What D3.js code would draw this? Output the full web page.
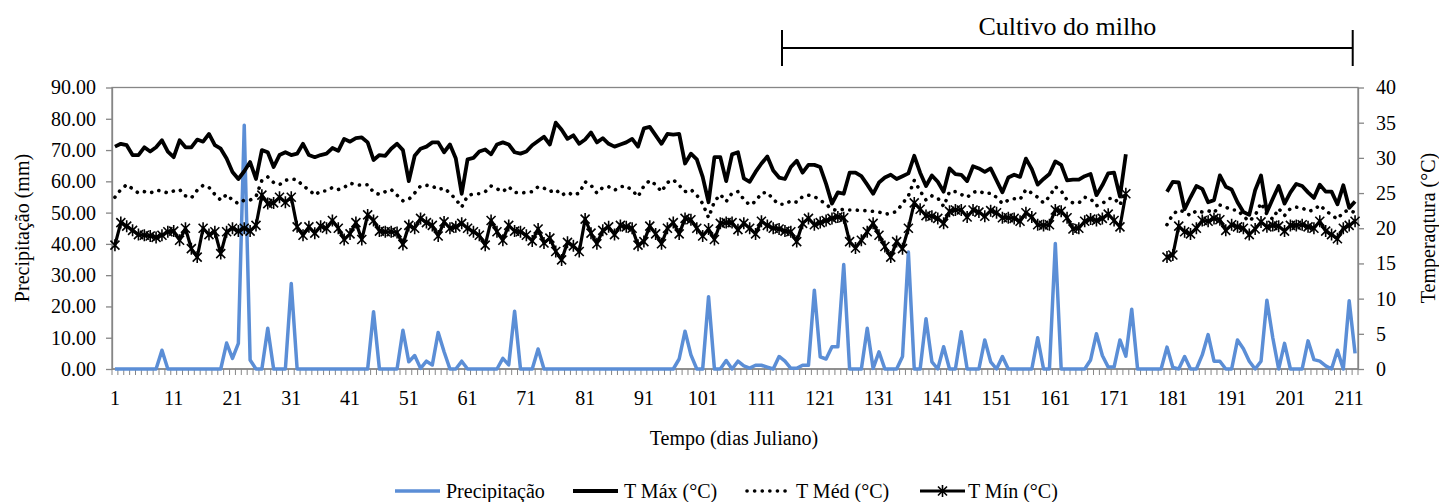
<!DOCTYPE html>
<html>
<head>
<meta charset="utf-8">
<script src="https://cdn.jsdelivr.net/npm/d3@7"></script>
<style>
  body { margin: 0; background: #fff; }
  svg text { font-family: "Liberation Serif", "Times New Roman", serif; fill: #000; }
</style>
</head>
<body>
<div class="canvas"></div>
<script>
// daily series (Julian days 1..212), gaps in temperature = null
var precipitacao = [
  0,0,0,0,0,0,0,0,6.0,0,
  0,0,0,0,0,0,0,0,0,8.3,
  3.4,8.2,77.9,2.9,0,0,13.0,0,0,0,
  27.3,0,0,0,0,0,0,0,0,0,
  0,0,0,0,18.3,0,0,0,0,12.4,
  2.3,4.3,0.2,2.5,1.3,11.7,5.5,0,0,2.5,
  0,0,0,0,0,0,3.4,1.3,18.5,0,
  0,0,6.4,0,0,0,0,0,0,0,
  0,0,0,0,0,0,0,0,0,0,
  0,0,0,0,0,0,3.2,12.1,4.5,0,
  0,23.1,0,0,2.7,0,2.5,1.0,0.3,1.2,
  1.2,0.6,0,4.0,2.5,0.2,0.2,1.2,1.2,25.2,
  3.9,3.2,7.1,7.1,33.4,0,0,0,13.0,0.2,
  5.5,0,0,0,4.0,37.4,0,0,16.1,2.3,
  0,7.1,0,0,11.9,0,0,0,9.3,2.3,
  0,4.0,0,0,0,0,0,10.0,0,0,
  40.1,0,0,0,0,0,2.9,11.3,4.3,0.6,
  0.6,9.3,4.1,19.1,0,0,0,0,0,7.0,
  0.5,0,4.0,0,0,4.5,11.0,2.5,2.5,0,
  0,9.3,6.5,2.5,0,2.5,22.0,10.0,0,8.2,
  0,0,0,9.0,3.0,2.5,1.0,0,6.0,0,
  21.8,5.0
];

var tMax = [
  31.6,32.0,31.8,30.4,30.4,31.5,30.9,31.5,32.5,30.9,
  30.1,32.5,31.5,31.5,32.6,32.3,33.4,31.8,31.3,29.9,
  28.0,27.0,28.1,29.4,27.0,31.1,30.8,28.7,30.4,30.8,
  30.4,30.6,32.0,30.4,30.1,30.4,30.6,31.4,31.0,32.7,
  32.3,32.8,32.9,32.2,29.7,30.4,30.3,31.3,32.0,31.1,
  26.7,30.3,31.3,31.6,32.2,32.2,30.8,31.9,29.9,24.9,
  29.8,30.0,30.9,31.2,30.5,31.9,32.2,31.9,30.8,30.6,
  30.9,31.8,32.4,33.0,31.9,35.0,34.0,32.7,33.2,32.0,
  32.6,33.6,32.2,32.8,32.0,31.6,31.9,32.2,32.7,31.6,
  34.2,34.4,33.2,32.0,33.4,33.3,33.4,29.2,30.6,29.8,
  27.3,23.7,30.1,30.1,26.7,30.5,30.8,27.1,26.6,28.0,
  29.2,30.2,28.2,27.2,27.0,28.7,29.6,27.9,29.0,29.0,
  28.7,26.3,23.5,25.1,24.9,27.9,27.9,27.4,26.2,24.9,
  26.5,27.2,27.6,27.0,27.4,27.8,30.3,27.9,26.0,27.5,
  26.6,25.2,28.5,27.7,27.6,26.7,28.8,28.5,28.0,28.5,
  26.8,25.1,27.2,27.6,27.3,29.9,28.4,26.2,27.0,27.7,
  29.5,29.0,26.8,26.9,26.9,27.4,27.7,24.7,26.1,27.8,
  27.9,24.5,30.5,null,null,null,null,null,null,25.2,
  26.6,26.5,22.7,24.4,26.0,25.6,23.7,24.0,27.5,25.9,
  25.5,23.7,22.3,21.9,25.4,27.5,22.3,24.2,26.0,23.5,
  25.1,26.3,26.0,25.1,24.3,26.2,25.2,25.2,23.4,26.1,
  22.9,23.8
];

var tMed = [
  24.4,25.5,26.2,25.6,25.0,25.2,25.0,25.4,25.3,25.0,
  25.3,25.5,24.6,24.3,25.4,26.1,25.8,24.8,24.0,24.8,
  24.0,23.5,24.0,24.0,24.5,26.8,27.3,26.5,26.2,26.8,
  27.0,26.9,26.0,25.5,24.7,25.3,25.3,25.8,25.5,25.8,
  26.4,26.2,26.1,26.2,25.1,24.8,25.2,25.5,24.7,23.9,
  24.1,25.0,26.0,26.1,26.0,25.5,25.7,25.0,24.1,23.0,
  24.6,24.9,24.9,25.2,26.0,25.6,25.2,25.9,25.1,25.0,
  25.1,25.2,25.9,25.7,25.2,25.5,24.7,25.1,24.7,25.0,
  26.6,26.1,25.0,25.8,25.9,25.4,25.9,26.0,25.4,24.5,
  26.0,26.8,26.2,25.2,26.5,26.9,26.1,25.2,25.5,24.7,
  23.5,21.5,23.8,24.8,23.8,25.0,25.2,24.1,23.3,23.8,
  25.0,25.1,24.1,23.4,23.4,23.9,23.7,24.5,24.7,24.5,
  24.0,23.4,22.7,22.5,22.7,22.6,22.6,22.5,22.5,22.4,
  22.3,22.0,22.1,22.4,23.5,24.6,26.8,25.3,24.0,24.6,
  24.3,23.1,25.2,25.2,24.8,24.4,25.1,25.3,24.9,25.0,
  24.4,23.5,24.0,24.2,24.1,25.5,25.0,24.4,23.6,24.5,
  25.9,25.3,24.0,23.6,23.6,24.4,24.2,23.2,23.5,24.2,
  24.3,23.3,25.5,null,null,null,null,null,null,20.5,
  22.0,22.6,22.3,21.8,22.5,22.3,22.5,22.2,23.3,23.0,
  22.6,22.6,21.7,21.0,21.8,23.6,22.0,21.3,22.8,21.8,
  22.8,23.0,22.9,22.4,22.6,23.3,22.5,21.9,21.3,22.3,
  22.6,22.2
];

var tMin = [
  17.6,20.8,20.3,19.7,19.1,19.0,18.9,18.7,19.0,19.5,
  19.6,18.3,20.0,17.1,15.9,20.0,19.1,19.5,16.4,19.5,
  20.0,19.6,20.0,19.6,20.4,24.7,23.5,23.6,24.4,23.7,
  24.4,20.2,19.0,20.2,19.3,20.3,20.0,21.1,20.0,18.4,
  19.2,20.8,18.4,21.9,21.1,19.6,19.5,19.5,19.4,17.7,
  20.4,20.0,21.4,20.8,20.4,18.9,20.9,20.0,20.2,20.7,
  20.0,19.5,19.0,17.6,21.1,19.5,18.3,20.4,19.6,19.5,
  19.0,18.2,19.9,17.9,18.6,16.7,15.5,18.0,17.5,16.7,
  21.3,19.3,17.8,19.7,20.2,19.1,20.4,20.2,20.0,17.6,
  18.1,20.3,19.2,17.8,20.0,20.8,19.2,21.4,21.2,20.0,
  18.9,19.9,18.4,20.7,20.8,20.8,19.8,20.7,20.0,19.2,
  21.0,20.4,20.0,19.9,19.6,19.5,18.1,20.7,21.4,20.5,
  20.8,21.1,21.4,21.6,21.5,18.1,17.2,18.3,19.5,20.7,
  19.0,17.4,15.9,18.1,17.1,20.0,23.6,22.7,21.8,21.7,
  21.4,20.7,22.4,22.6,22.6,21.6,22.6,22.3,21.7,22.5,
  22.2,21.5,21.5,21.4,21.0,22.2,21.6,20.5,20.4,20.5,
  22.6,22.4,21.5,19.9,20.0,21.0,21.3,21.1,21.4,22.0,
  21.1,20.2,24.9,null,null,null,null,null,null,15.9,
  16.2,20.3,19.5,19.2,20.0,21.1,21.0,21.4,21.2,19.7,
  20.5,20.2,20.0,19.1,19.9,20.9,20.2,20.4,20.3,19.6,
  20.4,20.4,20.5,20.2,20.0,21.0,19.6,19.1,18.5,20.0,
  20.4,21.0
];

var dias = d3.range(1, precipitacao.length + 1);
var xTickLabels = d3.range(1, 212, 10);          // 1, 11, ..., 211
var precipTicks = d3.range(0, 91, 10);
var tempTicks = d3.range(0, 41, 5);
var cultivo = {label: 'Cultivo do milho', inicio: 114.5, fim: 211.6};

var legendItems = ['Precipitação', 'T Máx (°C)', 'T Méd (°C)', 'T Mín (°C)'];

var W = 1439, H = 502;
var plot = {l: 112, r: 1358, t: 87.5, b: 369};
var axisGray = '#868686';
var blue = '#5B8ED6';

var svg = d3.select('.canvas').append('svg')
    .attr('width', W).attr('height', H);

var x = d3.scaleLinear().domain([0.5, dias.length + 0.5]).range([plot.l, plot.r]);
var yP = d3.scaleLinear().domain([0, 90]).range([plot.b, plot.t]);
var yT = d3.scaleLinear().domain([0, 40]).range([plot.b, plot.t]);

// plot frame
svg.append('rect')
    .attr('x', plot.l).attr('y', plot.t)
    .attr('width', plot.r - plot.l).attr('height', plot.b - plot.t)
    .attr('fill', 'none').attr('stroke', axisGray).attr('stroke-width', 1.3);

// left axis
var gL = svg.append('g').attr('transform', 'translate(' + plot.l + ',0)')
    .call(d3.axisLeft(yP).tickValues(precipTicks).tickFormat(d3.format('.2f'))
        .tickSize(6).tickSizeOuter(0).tickPadding(10));
// right axis
var gR = svg.append('g').attr('transform', 'translate(' + plot.r + ',0)')
    .call(d3.axisRight(yT).tickValues(tempTicks).tickFormat(d3.format('d'))
        .tickSize(6).tickSizeOuter(0).tickPadding(12));
[gL, gR].forEach(function(g){
    g.select('.domain').attr('stroke', axisGray).attr('stroke-width', 1.3);
    g.selectAll('.tick line').attr('stroke', axisGray).attr('stroke-width', 1.3);
    g.selectAll('.tick text').style('font-size', '20px').attr('fill', '#000')
        .style('font-family', '"Liberation Serif", serif');
});

// bottom category axis: a small tick between every day
svg.append('g').selectAll('line')
    .data(d3.range(0, dias.length + 1))
    .enter().append('line')
    .attr('x1', function(i){ return x(i + 0.5); })
    .attr('x2', function(i){ return x(i + 0.5); })
    .attr('y1', plot.b).attr('y2', plot.b + 6)
    .attr('stroke', axisGray).attr('stroke-width', 1);
svg.append('line')
    .attr('x1', plot.l).attr('x2', plot.r).attr('y1', plot.b).attr('y2', plot.b)
    .attr('stroke', axisGray).attr('stroke-width', 1.5);
svg.append('g').selectAll('text')
    .data(xTickLabels)
    .enter().append('text')
    .attr('x', function(d){ return x(d); })
    .attr('y', 405)
    .attr('text-anchor', 'middle')
    .style('font-size', '20px')
    .text(function(d){ return d; });

// axis titles
svg.append('text')
    .attr('transform', 'translate(29,228) rotate(-90)')
    .attr('text-anchor', 'middle').style('font-size', '20px')
    .text('Precipitação (mm)');
svg.append('text')
    .attr('transform', 'translate(1435,228) rotate(-90)')
    .attr('text-anchor', 'middle').style('font-size', '20px')
    .text('Temperaqtura (°C)');
svg.append('text')
    .attr('x', 734).attr('y', 445)
    .attr('text-anchor', 'middle').style('font-size', '20px')
    .text('Tempo (dias Juliano)');

// series lines
function lineFor(vals, y){
    return d3.line()
        .defined(function(d){ return d != null; })
        .x(function(d, i){ return x(dias[i]); })
        .y(function(d){ return y(d); })(vals);
}

svg.append('path')
    .attr('d', lineFor(precipitacao, yP))
    .attr('fill', 'none').attr('stroke', blue).attr('stroke-width', 3.5)
    .attr('stroke-linejoin', 'round');

svg.append('path')
    .attr('d', lineFor(tMed, yT))
    .attr('fill', 'none').attr('stroke', '#000').attr('stroke-width', 3.6)
    .attr('stroke-dasharray', '0.1 7.5').attr('stroke-linecap', 'round');

svg.append('path')
    .attr('d', lineFor(tMax, yT))
    .attr('fill', 'none').attr('stroke', '#000').attr('stroke-width', 3.8)
    .attr('stroke-linejoin', 'round');

svg.append('path')
    .attr('d', lineFor(tMin, yT))
    .attr('fill', 'none').attr('stroke', '#000').attr('stroke-width', 3.2)
    .attr('stroke-linejoin', 'round');

var star = 'M-4.5,-4.5L4.5,4.5M-4.5,4.5L4.5,-4.5M0,-6L0,6';
svg.append('g').selectAll('path')
    .data(tMin.map(function(v, i){ return {d: dias[i], v: v}; })
        .filter(function(p){ return p.v != null; }))
    .enter().append('path')
    .attr('transform', function(p){ return 'translate(' + x(p.d) + ',' + yT(p.v) + ')'; })
    .attr('d', star)
    .attr('stroke', '#000').attr('stroke-width', 1.6).attr('fill', 'none');

// crop period annotation
var cx0 = x(cultivo.inicio), cx1 = x(cultivo.fim);
var ann = svg.append('g').attr('stroke', '#000').attr('stroke-width', 2);
ann.append('line').attr('x1', cx0).attr('x2', cx1).attr('y1', 48).attr('y2', 48);
ann.append('line').attr('x1', cx0).attr('x2', cx0).attr('y1', 30).attr('y2', 66);
ann.append('line').attr('x1', cx1).attr('x2', cx1).attr('y1', 30).attr('y2', 66);
svg.append('text')
    .attr('x', (cx0 + cx1) / 2).attr('y', 35)
    .attr('text-anchor', 'middle').style('font-size', '26px')
    .text(cultivo.label);

// legend
var legX = [395, 573, 745, 920];
var leg = svg.append('g');
legendItems.forEach(function(name, i){
    var lx = legX[i], ly = 491;
    var ln = leg.append('line')
        .attr('x1', lx).attr('x2', lx + 45).attr('y1', ly).attr('y2', ly);
    if (i === 0) ln.attr('stroke', blue).attr('stroke-width', 3.5);
    else if (i === 1) ln.attr('stroke', '#000').attr('stroke-width', 3.8);
    else if (i === 2) ln.attr('stroke', '#000').attr('stroke-width', 3.6)
        .attr('stroke-dasharray', '0.1 7.5').attr('stroke-linecap', 'round')
        .attr('x1', lx + 2);
    else {
        ln.attr('stroke', '#000').attr('stroke-width', 3.2);
        leg.append('path').attr('d', star)
            .attr('transform', 'translate(' + (lx + 22.5) + ',' + ly + ')')
            .attr('stroke', '#000').attr('stroke-width', 1.6);
    }
    leg.append('text')
        .attr('x', lx + 51 - (i === 3 ? 3 : 0)).attr('y', ly + 7)
        .style('font-size', '20px')
        .text(name);
});
</script>
</body>
</html>
